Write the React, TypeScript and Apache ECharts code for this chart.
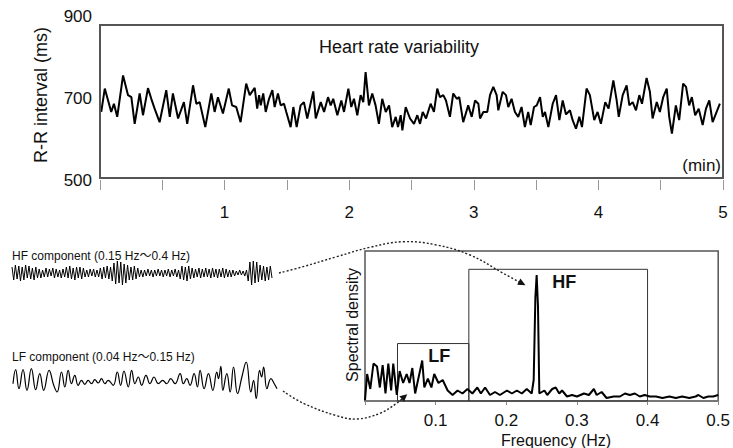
import React, { useEffect, useRef } from "react";
import * as echarts from "echarts";

// ---- Heart rate variability (R-R interval, ms) vs time (s) ----
const hrvTimeSec = [
  0.6, 2.3, 3.9, 5.4, 6.7, 8.3, 11.1, 13.5, 15.1, 16.7, 19.1, 20.7, 23.1, 24.7, 26.3, 28.7, 31.9, 33.6, 35.1, 37.6,
  40.4, 42.0, 44.8, 46.4, 48.0, 50.7, 53.6, 55.2, 56.8, 59.2, 62.0, 63.6, 65.6, 67.7, 70.4, 72.1, 74.5,
  75.7, 76.6, 77.4, 78.6, 79.8, 81.4, 83.0, 84.1, 85.7, 87.0, 88.6, 89.7, 91.8, 93.1, 94.7, 96.6, 98.2, 99.8,
  102.7, 103.9, 106.3, 107.9, 109.8, 111.1, 112.3, 114.3, 116.2, 117.5, 119.6, 121.0, 122.3, 123.9, 125.5, 126.8,
  127.9, 129.5, 131.1, 132.7, 134.3, 135.9, 137.6, 139.2, 140.7, 142.4, 143.5, 144.8, 145.6, 147.2, 149.3,
  151.2, 152.8, 154.1, 155.4, 157.0, 159.2, 160.8, 162.4, 163.7, 165.3, 166.6, 168.5, 170.1, 171.8, 173.0, 174.9,
  177.3, 179.0, 180.6, 182.2, 183.0, 184.6, 186.5, 187.8, 189.4, 191.0, 191.8, 193.9, 195.5, 196.6, 198.2, 199.8,
  201.4, 203.0, 204.6, 206.2, 207.4, 209.0, 210.3, 211.9, 213.2, 214.3, 215.9, 218.0, 219.6, 221.2, 222.8, 224.4,
  226.3, 227.6, 229.2, 230.8, 232.1, 234.3, 235.9, 238.0, 239.6, 241.2, 243.3, 244.9, 247.2, 248.8, 249.8, 251.7,
  253.6, 254.9, 256.5, 258.1, 259.7, 261.0, 263.2, 264.8, 266.1, 268.1, 269.6, 271.2, 272.9, 274.1, 275.4, 277.3,
  278.9, 280.8, 282.2, 283.7, 285.0, 286.6, 288.3, 290.2, 291.8, 293.4, 295.0, 296.6, 298.5,
];
const hrvRR = [
  666, 723, 694, 666, 686, 654, 755, 707, 702, 637, 711, 658, 724, 698, 674, 641, 719, 654, 711, 650,
  690, 637, 731, 686, 690, 629, 711, 666, 702, 662, 723, 682, 678, 641, 735, 707, 725,
  674, 707, 682, 711, 666, 698, 719, 678, 711, 682, 686, 666, 629, 678, 629, 682, 690, 650,
  716, 650, 690, 666, 702, 682, 698, 658, 694, 666, 723, 678, 698, 658, 707, 690,
  763, 682, 711, 682, 637, 698, 666, 682, 629, 654, 629, 658, 621, 678, 650,
  637, 658, 637, 666, 650, 686, 666, 723, 702, 707, 694, 654, 711, 698, 702, 641,
  682, 654, 694, 686, 650, 666, 666, 707, 727, 707, 670, 715, 707, 678, 698, 666,
  654, 678, 629, 666, 634, 678, 682, 702, 654, 666, 629, 686, 707, 646, 694, 660,
  670, 646, 625, 654, 629, 723, 707, 646, 666, 637, 690, 674, 743, 694, 654, 707,
  731, 682, 690, 670, 707, 686, 749, 715, 650, 690, 666, 702, 723, 654, 613, 682,
  646, 735, 727, 682, 702, 658, 674, 634, 674, 694, 641, 662, 686,
];
const minuteTicks = ["1", "2", "3", "4", "5"];

// ---- HF component (0.15-0.4 Hz), successive extremes ----
const hfWave = [
  6, -7, 8, -6, 7, -8, 6, -7, 8, -5, 7, -6, 5, -7, 6, -5,
  4, -5, 3, -4, 5, -4, 4, -3, 5, -5, 4, -4, 3, -5, 4, -4,
  6, -5, 7, -6, 5, -7, 6, -5, 6, -6, 5, -4,
  3, -4, 4, -3, 4, -4, 3, -4,
  5, -6, 6, -5, 7, -6, 6, -8,
  10, -11, 12, -10, 11, -12, 9, -10,
  8, -7, 6, -7, 7, -6, 5,
  -4, 3, -4, 3, -3, 4, -3, 3, -4, 3, -3, 4, -3, 3, -4, 3, -3, 4, -4, 3, -3, 4, -4, 3,
  -6, 7, -7, 6, -8, 7, -6, 5,
  -5, 4, -4, 5, -5, 4, -4, 5, -4, 4, -5, 5, -4, 4, -5, 4, -4, 5, -5, 4, -4, 3, -4, 3,
  -3, 2, -2, 3, -2, 2, -3, 3,
  -8, 11, -12, 12, -10, 11, -9,
  8, -7, 7, -8, 6, -7, 7, -5,
];

// ---- LF component (0.04-0.15 Hz) ----
const lfTimeSec = [
  0, 3.0, 6.8, 11.4, 15.9, 20.9, 25.8, 30.4, 34.9, 41.0, 46.3, 50.1, 55.1, 58.9, 62.7, 66.4, 70.2, 74.0, 77.8, 81.6,
  85.4, 89.2, 93.0, 96.8, 100.6, 104.4, 108.2, 113.9, 118.5, 122.3, 126.1, 131.0, 134.8, 138.6, 142.4, 146.2, 151.1,
  155.7, 160.2, 165.2, 170.1, 174.7, 179.2, 184.2, 189.9, 193.6, 197.4, 201.2, 205.8, 209.6, 212.6, 217.2, 222.1,
  227.1, 231.6, 233.5, 236.2, 238.5, 243.0, 246.8, 250.6, 255.2, 260.1, 265.0, 270.3, 273.4, 276.4, 280.2, 282.5,
  284.8, 288.6, 293.1, 296.9, 300,
];
const lfWave = [
  -1.7, 12.3, -6.7, 12.3, -8.3, 13.3, -7.7, 8.3, -8.3, 11.7, -3.3, -10, 10, -5, 11.7, -1.7, 6.7, -3.3, 1.7, -2.3,
  1.7, -1.7, 2.3, -1, 3.3, -1.7, 1.7, -3.3, 10, -3.3, 11, -5, 11.7, -1.7, 5, -3.3, 6.7,
  -1.7, 5, -1.7, 1.7, -1.7, 3.3, -1.7, 8.3, -1.7, 3.3, -3.3, 8.3, -5, 11.7, -6.7, 8.3,
  -8.3, 10, 3.3, 15.7, -8.3, 8.3, -10, 15, -11.7, 5, 20, -10, 1.7, -16.7, 11.7, 5,
  15, -6.7, 3.3, -1.7, -6.7,
];

// ---- Power spectrum ----
const specFreq = [
  0, 0.003, 0.0075, 0.012, 0.017, 0.021, 0.025, 0.029, 0.033, 0.037, 0.04, 0.045, 0.049, 0.054, 0.059, 0.063,
  0.067, 0.071, 0.076, 0.081, 0.084, 0.089, 0.094, 0.098, 0.104, 0.11, 0.117, 0.124, 0.131, 0.138, 0.145, 0.152,
  0.159, 0.164, 0.17, 0.177, 0.184, 0.191, 0.201, 0.208, 0.215, 0.222, 0.229, 0.236, 0.2388, 0.2412, 0.243, 0.2449,
  0.2468, 0.254, 0.258, 0.265, 0.27, 0.275, 0.279, 0.286, 0.293, 0.3, 0.31, 0.317, 0.324, 0.328, 0.335, 0.342,
  0.352, 0.361, 0.368, 0.375, 0.382, 0.389, 0.396, 0.403, 0.412, 0.421, 0.431, 0.44, 0.449, 0.459, 0.468, 0.472,
  0.479, 0.486, 0.493, 0.5,
];
const specDensity = [
  0.5, 18, 8, 25, 23, 9, 24, 5, 25, 7, 25, 4, 20, 12, 18, 12,
  22, 5, 16, 27, 9, 15, 9, 18, 12, 14, 7, 4, 7, 5, 8, 5,
  9, 5, 9, 4, 6, 4, 7, 5, 7, 5, 8, 5, 14, 69, 84, 63,
  5, 7, 4, 8, 9, 5, 7, 3, 4, 3, 5, 4, 8, 4, 6, 2,
  3, 3, 5, 4, 5, 3, 4, 3, 3, 2, 3, 2, 3, 2, 3, 4,
  2, 3, 3, 4,
];
const bandNames = ["LF", "HF"];
const bandRanges = [
  [0.046, 0.147],
  [0.147, 0.4],
];
const bandTops = [38.3, 87.8];
const freqTicks = ["0.1", "0.2", "0.3", "0.4", "0.5"];

const FONT = "'Liberation Sans', Arial, 'Noto Sans CJK JP', sans-serif";
const INK = "#111";

export default function App() {
  const ref = useRef<HTMLDivElement>(null);
  useEffect(() => {
    document.body.style.margin = "0";
    const chart = echarts.init(ref.current!, null, { renderer: "svg" });

    const hrvData = hrvTimeSec.map((t, i) => [t, hrvRR[i]]);
    const lfData = lfTimeSec.map((t, i) => [t, lfWave[i]]);
    const specData = specFreq.map((f, i) => [f, specDensity[i]]);
    const markData = bandNames.map((n, i) => [
      { name: n, xAxis: bandRanges[i][0], yAxis: 0 },
      { xAxis: bandRanges[i][1], yAxis: bandTops[i] },
    ]);

    const dotted = { stroke: "#222", lineWidth: 1.4, lineDash: [2, 2], fill: null };

    chart.setOption({
      animation: false,
      backgroundColor: "#fff",
      textStyle: { fontFamily: FONT },
      grid: [
        { left: 100, top: 16, width: 623, height: 164 },
        { left: 12, top: 261, width: 260, height: 24 },
        { left: 13, top: 362, width: 264, height: 40 },
        { left: 365, top: 251, width: 358, height: 150, show: true, borderColor: "#555", borderWidth: 1.5 },
      ],
      xAxis: [
        {
          gridIndex: 0, type: "value", min: 0, max: 300, interval: 30,
          axisLine: { show: false },
          axisTick: { show: true, length: 10, lineStyle: { color: "#999", width: 1 } },
          axisLabel: {
            margin: 24, fontSize: 17, color: INK, fontFamily: FONT, showMaxLabel: true,
            formatter: (v: number) => (v > 0 && v % 60 === 0 ? minuteTicks[v / 60 - 1] : ""),
          },
          splitLine: { show: false },
        },
        { gridIndex: 1, type: "category", show: false, boundaryGap: false, data: hfWave.map((_, i) => i) },
        { gridIndex: 2, type: "value", show: false, min: 0, max: 300 },
        {
          gridIndex: 3, type: "value", min: 0, max: 0.5, interval: 0.1,
          axisLine: { show: true, lineStyle: { color: "#777", width: 2 } },
          axisTick: { show: true, length: 4, lineStyle: { color: "#888" } },
          axisLabel: {
            margin: 11, fontSize: 17, color: INK, fontFamily: FONT, showMaxLabel: true,
            formatter: (v: number) => {
              const k = Math.round(v * 10);
              return k > 0 ? freqTicks[k - 1] : "";
            },
          },
          splitLine: { show: false },
        },
      ],
      yAxis: [
        {
          gridIndex: 0, type: "value", min: 500, max: 900, interval: 200,
          axisLine: { show: false }, axisTick: { show: false }, splitLine: { show: false },
          axisLabel: { fontSize: 17, color: INK, margin: 8, fontFamily: FONT },
        },
        { gridIndex: 1, type: "value", show: false, min: -12, max: 12 },
        { gridIndex: 2, type: "value", show: false, min: -20, max: 20 },
        { gridIndex: 3, type: "value", show: false, min: 0, max: 100 },
      ],
      series: [
        {
          type: "line", xAxisIndex: 0, yAxisIndex: 0, data: hrvData, symbol: "none",
          lineStyle: { color: "#000", width: 2 },
        },
        {
          type: "line", xAxisIndex: 1, yAxisIndex: 1, data: hfWave, symbol: "none",
          lineStyle: { color: "#000", width: 1 },
        },
        {
          type: "line", xAxisIndex: 2, yAxisIndex: 2, data: lfData, symbol: "none", smooth: 0.45,
          lineStyle: { color: "#000", width: 1.2 },
        },
        {
          type: "line", xAxisIndex: 3, yAxisIndex: 3, data: specData, symbol: "none",
          lineStyle: { color: "#000", width: 2 },
          markArea: {
            silent: true,
            itemStyle: { color: "rgba(0,0,0,0)", borderColor: "#333", borderWidth: 1 },
            label: {
              show: true, position: "insideTop", distance: 4, offset: [6, 0],
              fontSize: 18, fontWeight: "bold", color: INK, fontFamily: FONT, formatter: "{b}",
            },
            data: markData,
          },
        },
      ],
      graphic: [
        { type: "rect", shape: { x: 100, y: 25, width: 623, height: 153 }, style: { fill: null, stroke: "#555", lineWidth: 2 }, z: 10 },
        { type: "text", x: 399, y: 47, style: { text: "Heart rate variability", font: `18px ${FONT}`, fill: INK, textAlign: "center", textVerticalAlign: "middle" } },
        { type: "text", x: 721, y: 165, style: { text: "(min)", font: `17px ${FONT}`, fill: INK, textAlign: "right", textVerticalAlign: "middle" } },
        { type: "text", x: 41, y: 95, rotation: Math.PI / 2, style: { text: "R-R interval (ms)", font: `18px ${FONT}`, fill: INK, textAlign: "center", textVerticalAlign: "middle" } },
        { type: "text", x: 12, y: 256, style: { text: "HF component (0.15 Hz～0.4 Hz)", font: `12px ${FONT}`, fill: INK, textAlign: "left", textVerticalAlign: "middle" } },
        { type: "text", x: 12, y: 357, style: { text: "LF component (0.04 Hz～0.15 Hz)", font: `12px ${FONT}`, fill: INK, textAlign: "left", textVerticalAlign: "middle" } },
        { type: "text", x: 352, y: 325, rotation: Math.PI / 2, style: { text: "Spectral density", font: `16px ${FONT}`, fill: INK, textAlign: "center", textVerticalAlign: "middle" } },
        { type: "text", x: 556, y: 440, style: { text: "Frequency (Hz)", font: `16px ${FONT}`, fill: INK, textAlign: "center", textVerticalAlign: "middle" } },
        {
          type: "polyline", z: 20,
          shape: { points: [[279, 273], [303, 266.7], [336.7, 256.7], [370, 247.3], [403.3, 241.7], [436.7, 245], [470, 255], [503.3, 273.3], [519, 282]], smooth: 0.4 },
          style: dotted,
        },
        { type: "polygon", z: 20, shape: { points: [[525.5, 285.3], [517.2, 284.8], [520.4, 278.6]] }, style: { fill: "#111" } },
        {
          type: "polyline", z: 20,
          shape: { points: [[283, 391], [303.3, 403.3], [336.7, 415.7], [356.7, 419], [380, 413.3], [396.7, 403.3], [402, 398.8]], smooth: 0.4 },
          style: dotted,
        },
        { type: "polygon", z: 20, shape: { points: [[407.3, 394.3], [404.0, 401.7], [399.4, 396.3]] }, style: { fill: "#111" } },
      ],
    });
    return () => chart.dispose();
  }, []);
  return <div ref={ref} style={{ position: "fixed", left: 0, top: 0, width: 733, height: 448 }} />;
}
